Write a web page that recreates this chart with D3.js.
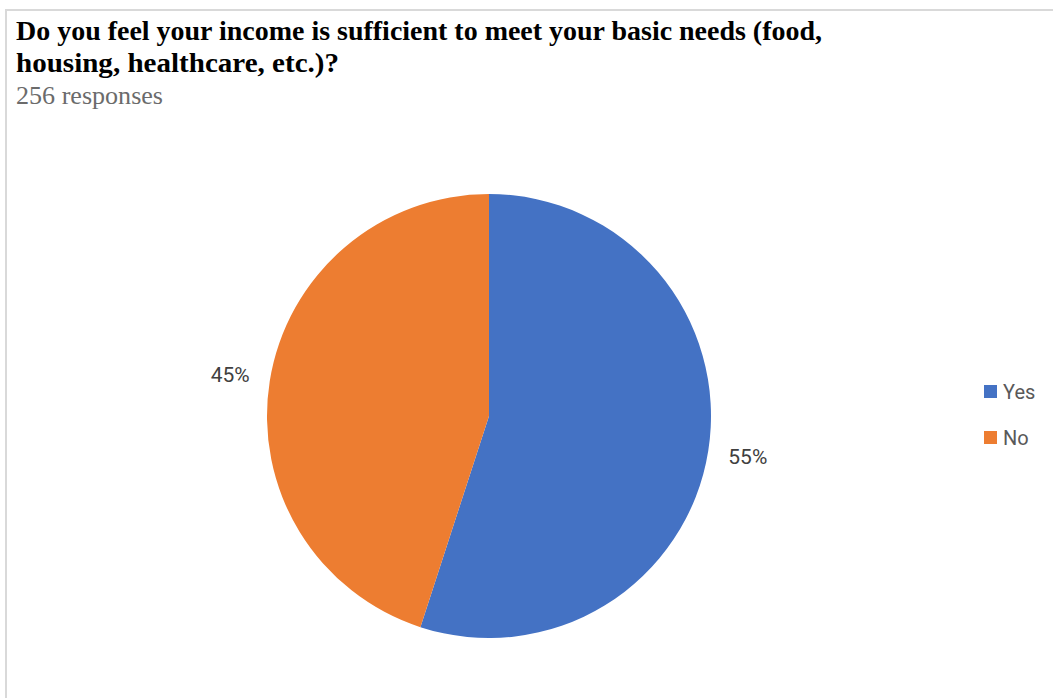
<!DOCTYPE html>
<html>
<head>
<meta charset="utf-8">
<script src="https://cdn.jsdelivr.net/npm/d3@7/dist/d3.min.js"></script>
<style>
  html, body { margin: 0; padding: 0; background: #fff; }
  svg { display: block; }
</style>
</head>
<body>
<svg id="chart" width="1053" height="698"></svg>
<script>
// Survey answers and their shares
const categories = ["Yes", "No"];
const shares = [55, 45];
const colors = ["#4472C4", "#ED7D31"];
const titleLines = [
  "Do you feel your income is sufficient to meet your basic needs (food,",
  "housing, healthcare, etc.)?"
];
const subtitle = "256 responses";

const svg = d3.select("#chart");
const W = 1053, H = 698;

// Card frame
svg.append("rect")
  .attr("x", 6).attr("y", 10)
  .attr("width", W + 10).attr("height", H + 10)
  .attr("fill", "#fff")
  .attr("stroke", "#d9d9d9")
  .attr("stroke-width", 2);

// Title (line widths fitted to the card layout)
const titleWidths = [806, 323];
svg.selectAll("text.title")
  .data(titleLines)
  .join("text")
  .attr("class", "title")
  .attr("x", 16)
  .attr("y", (d, i) => 40 + i * 32)
  .attr("font-family", "'Liberation Serif', 'Times New Roman', serif")
  .attr("font-weight", "bold")
  .attr("font-size", 26.5)
  .attr("fill", "#000")
  .attr("textLength", (d, i) => titleWidths[i])
  .attr("lengthAdjust", "spacingAndGlyphs")
  .text(d => d);

svg.append("text")
  .attr("x", 16).attr("y", 104)
  .attr("font-family", "'Liberation Serif', 'Times New Roman', serif")
  .attr("font-size", 26)
  .attr("fill", "#6b6b6b")
  .attr("textLength", 147)
  .attr("lengthAdjust", "spacingAndGlyphs")
  .text(subtitle);

// Pie
const cx = 489, cy = 416, r = 222;
const data = categories.map((c, i) => ({ cat: c, value: shares[i], color: colors[i] }));
const pie = d3.pie().value(d => d.value).sort(null);
const arc = d3.arc().innerRadius(0).outerRadius(r);
const labelArc = d3.arc().innerRadius(r + 40).outerRadius(r + 40);

const g = svg.append("g").attr("transform", `translate(${cx},${cy})`);
const arcs = pie(data);

g.selectAll("path")
  .data(arcs)
  .join("path")
  .attr("d", arc)
  .attr("fill", d => d.data.color);

g.selectAll("text.pct")
  .data(arcs)
  .join("text")
  .attr("class", "pct")
  .attr("transform", d => `translate(${labelArc.centroid(d)})`)
  .attr("text-anchor", "middle")
  .attr("dominant-baseline", "central")
  .attr("font-family", "Roboto, 'Liberation Sans', sans-serif")
  .attr("font-size", 21)
  .attr("fill", "#404040")
  .text(d => d.data.value + "%");

// Legend
const legend = svg.append("g").attr("transform", "translate(984,392)");
const item = legend.selectAll("g")
  .data(data)
  .join("g")
  .attr("transform", (d, i) => `translate(0,${i * 46})`);
item.append("rect")
  .attr("x", 0).attr("y", -7)
  .attr("width", 13).attr("height", 13)
  .attr("fill", d => d.color);
item.append("text")
  .attr("x", 19).attr("y", 0)
  .attr("dominant-baseline", "central")
  .attr("font-family", "Roboto, 'Liberation Sans', sans-serif")
  .attr("font-size", 20)
  .attr("fill", "#595959")
  .text(d => d.cat);
</script>
</body>
</html>
